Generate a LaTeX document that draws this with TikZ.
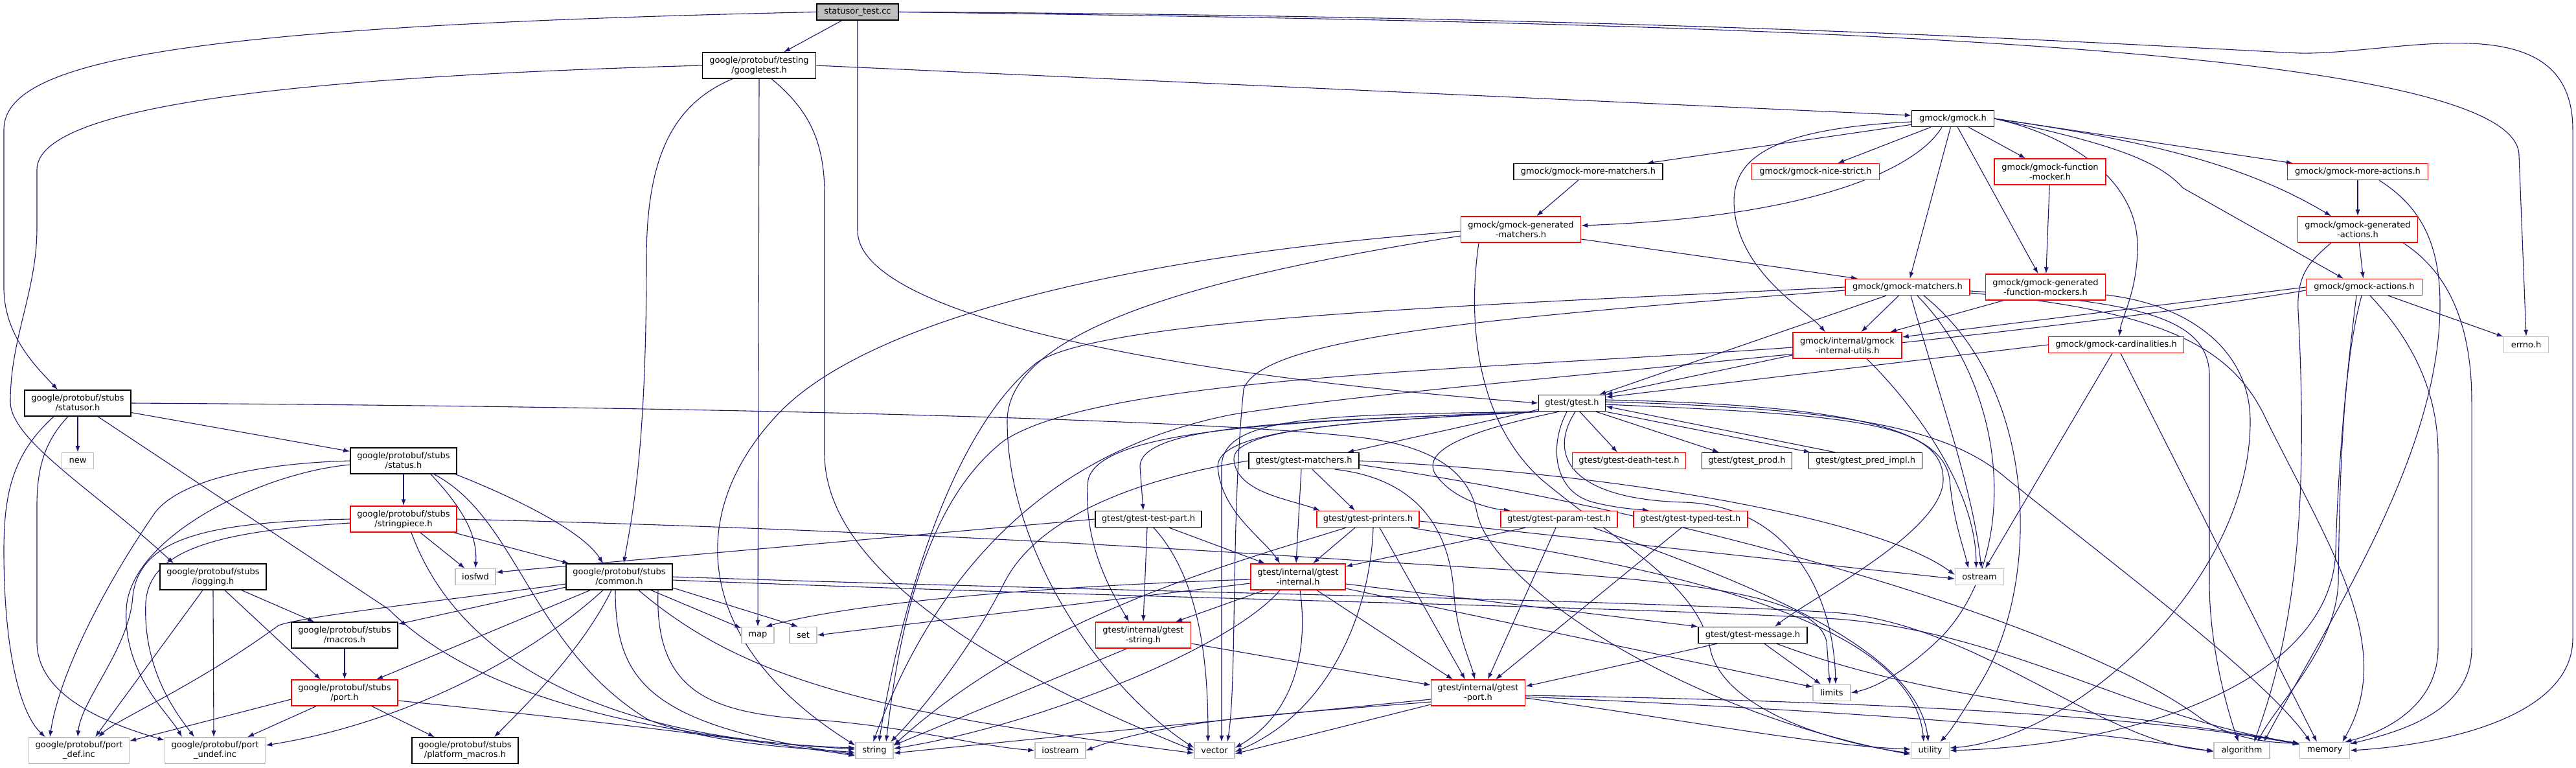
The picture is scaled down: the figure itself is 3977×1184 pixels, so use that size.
\documentclass[tikz,border=0pt]{standalone}
\usepackage{fontspec}
\usepackage{tikz}
\usetikzlibrary{arrows.meta}
\newfontfamily\dxfont{DejaVu Sans}
\definecolor{dxblue}{HTML}{191970}
\definecolor{dxred}{HTML}{FF0000}
\definecolor{dxgray}{HTML}{BFBFBF}
\pgfdeclarelayer{bg}
\pgfsetlayers{bg,main}
\tikzset{
  bx/.style={rectangle, line width=1.4pt, fill=white, minimum height=25pt, inner sep=2pt, align=center, font=\dxfont\fontsize{13}{15}\selectfont},
  doc/.style={bx, draw=black},
  trunc/.style={bx, draw=dxred},
  sys/.style={bx, draw=dxgray},
  two/.style={minimum height=40pt},
  dep/.style={draw=dxblue, line width=1.1pt, -{Latex[length=10pt,width=7pt]}}
}
\begin{document}
\begin{tikzpicture}[x=1pt,y=-1pt]
\useasboundingbox (0,0) rectangle (3977,1184);
%files
\node[doc, fill=dxgray, minimum width=126pt] (test) at (1324,18.5) {statusor\_test.cc};
\node[doc, two, minimum width=175pt] (googletest) at (1172,101) {google/protobuf/testing\\/googletest.h};
\node[doc, minimum width=127pt] (gmock) at (3015,183) {gmock/gmock.h};
\node[doc, minimum width=230pt] (moremat) at (2452,265) {gmock/gmock-more-matchers.h};
\node[trunc, minimum width=197pt] (nicestrict) at (2803,265) {gmock/gmock-nice-strict.h};
\node[trunc, two, minimum width=185pt] (genmat) at (2348,354) {gmock/gmock-generated\\-matchers.h};
\node[trunc, minimum width=192pt] (matchers) at (2945,443) {gmock/gmock-matchers.h};
\node[trunc, two, minimum width=168pt] (iutils) at (2852,533) {gmock/internal/gmock\\-internal-utils.h};
\node[trunc, two, minimum width=172pt] (funcmock) at (3165,265) {gmock/gmock-function\\-mocker.h};
\node[trunc, two, minimum width=185pt] (genfunc) at (3158,443) {gmock/gmock-generated\\-function-mockers.h};
\node[trunc, minimum width=209pt] (card) at (3267,532) {gmock/gmock-cardinalities.h};
\node[trunc, minimum width=217pt] (moreact) at (3640,265) {gmock/gmock-more-actions.h};
\node[trunc, two, minimum width=185pt] (genact) at (3640,354) {gmock/gmock-generated\\-actions.h};
\node[trunc, minimum width=179pt] (actions) at (3650,443) {gmock/gmock-actions.h};
\node[sys, minimum width=69pt] (errno) at (3900,532) {errno.h};
\node[doc, two, minimum width=164pt] (statusor) at (120,622) {google/protobuf/stubs\\/statusor.h};
\node[sys, minimum width=49pt] (new) at (120,711) {new};
\node[doc, two, minimum width=164pt] (status) at (623,711) {google/protobuf/stubs\\/status.h};
\node[trunc, two, minimum width=164pt] (strpiece) at (623,801) {google/protobuf/stubs\\/stringpiece.h};
\node[doc, two, minimum width=164pt] (logging) at (329,890) {google/protobuf/stubs\\/logging.h};
\node[sys, minimum width=62pt] (iosfwd) at (734,890) {iosfwd};
\node[doc, two, minimum width=164pt] (common) at (956,890) {google/protobuf/stubs\\/common.h};
\node[doc, two, minimum width=164pt] (macros) at (532,980) {google/protobuf/stubs\\/macros.h};
\node[trunc, two, minimum width=164pt] (sport) at (532,1069) {google/protobuf/stubs\\/port.h};
\node[sys, two, minimum width=155pt] (portdef) at (122,1158) {google/protobuf/port\\\_def.inc};
\node[sys, two, minimum width=155pt] (portundef) at (332,1158) {google/protobuf/port\\\_undef.inc};
\node[doc, two, minimum width=164pt] (platform) at (718,1158) {google/protobuf/stubs\\/platform\_macros.h};
\node[sys, minimum width=50pt] (map) at (1170,980) {map};
\node[sys, minimum width=42pt] (set) at (1240,980) {set};
\node[sys, minimum width=58pt] (string) at (1350,1158) {string};
\node[sys, minimum width=78pt] (iostream) at (1637,1158) {iostream};
\node[sys, minimum width=62pt] (vector) at (1875,1158) {vector};
\node[doc, minimum width=164pt] (testpart) at (1773,801) {gtest/gtest-test-part.h};
\node[trunc, two, minimum width=147pt] (gstring) at (1765,980) {gtest/internal/gtest\\-string.h};
\node[trunc, two, minimum width=146pt] (ginternal) at (2004,890) {gtest/internal/gtest\\-internal.h};
\node[doc, minimum width=170pt] (gmatchers) at (2013,711) {gtest/gtest-matchers.h};
\node[doc, minimum width=103pt] (gtest) at (2427,622) {gtest/gtest.h};
\node[trunc, minimum width=175pt] (death) at (2515,711) {gtest/gtest-death-test.h};
\node[doc, minimum width=139pt] (prod) at (2697,711) {gtest/gtest\_prod.h};
\node[doc, minimum width=175pt] (predimpl) at (2880,711) {gtest/gtest\_pred\_impl.h};
\node[trunc, minimum width=158pt] (printers) at (2112,801) {gtest/gtest-printers.h};
\node[trunc, minimum width=180pt] (param) at (2407,801) {gtest/gtest-param-test.h};
\node[trunc, minimum width=176pt] (typed) at (2610,801) {gtest/gtest-typed-test.h};
\node[doc, minimum width=168pt] (message) at (2706,980) {gtest/gtest-message.h};
\node[trunc, two, minimum width=145pt] (gport) at (2282,1069) {gtest/internal/gtest\\-port.h};
\node[sys, minimum width=58pt] (limits) at (2828,1069) {limits};
\node[sys, minimum width=59pt] (utility) at (2980,1158) {utility};
\node[sys, minimum width=75pt] (ostream) at (3056,890) {ostream};
\node[sys, minimum width=86pt] (algorithm) at (3461,1158) {algorithm};
\node[sys, minimum width=77pt] (memory) at (3589,1158) {memory};
\begin{pgfonlayer}{bg}
\fill[white] (0,0) rectangle (3977,1184);
%statusor_test.cc
\draw[dep] (test) -- (googletest);
\draw[dep] (test.west) .. controls (300,40) and (6,90) .. (6,200) -- (6,444) .. controls (6,520) and (60,570) .. ([xshift=-31pt]statusor.north);
\draw[dep] (test.south) -- (1324,356) .. controls (1324,470) and (1700,570) .. (gtest.west);
\draw[dep] (test.east) .. controls (2600,35) and (3889,60) .. (3889,240) -- (errno.north);
\draw[dep] (test.east) .. controls (2600,25) and (3300,70) .. (3550,82) .. controls (3700,85) and (3972,0) .. (3972,200) -- (3972,985) .. controls (3972,1110) and (3760,1150) .. (memory.east);
%googletest.h
\draw[dep] (googletest.east) -- ([yshift=5pt]gmock.west);
\draw[dep] (googletest.west) .. controls (400,120) and (57,170) .. (57,262) -- (57,352) .. controls (57,450) and (16,520) .. (16,620) .. controls (16,680) and (150,760) .. ([xshift=-61pt]logging.north);
\draw[dep] ([xshift=-41pt]googletest.south) .. controls (1040,160) and (998,240) .. (998,400) .. controls (998,700) and (975,800) .. ([xshift=7pt]common.north);
\draw[dep] (googletest.south) -- (map.north);
\draw[dep] ([xshift=19pt]googletest.south) .. controls (1250,170) and (1273,220) .. (1273,300) -- (1273,700) .. controls (1273,900) and (1600,1060) .. (vector.west);
%gmock.h
\draw[dep] (gmock) -- (moremat);
\draw[dep] (gmock) -- (nicestrict);
\draw[dep] ([xshift=-17pt]gmock.south) .. controls (2960,260) and (2800,335) .. ([yshift=6pt]genmat.east);
\draw[dep] ([yshift=-5pt]gmock.west) .. controls (2700,200) and (2665,260) .. (2680,340) .. controls (2700,430) and (2790,480) .. ([xshift=-34pt]iutils.north);
\draw[dep] (gmock) -- (matchers);
\draw[dep] (gmock) -- (funcmock);
\draw[dep] (gmock) -- (genfunc);
\draw[dep] (gmock.east) .. controls (3200,210) and (3300,280) .. (3300,380) .. controls (3300,450) and (3275,490) .. ([xshift=5pt]card.north);
\draw[dep] (gmock.east) .. controls (3250,220) and (3330,245) .. (3370,290) -- ([xshift=-32pt]actions.north);
\draw[dep] (gmock.east) .. controls (3300,215) and (3460,250) .. ([xshift=-41pt]genact.north);
\draw[dep] (gmock.east) -- ([xshift=-100pt]moreact.north);
\draw[dep] (moremat) -- (genmat);
\draw[dep] (funcmock) -- (genfunc);
%gmock actions
\draw[dep] (moreact) -- (genact);
\draw[dep] ([xshift=33pt]moreact.south) .. controls (3740,320) and (3767,380) .. (3767,470) .. controls (3767,700) and (3600,950) .. ([xshift=34pt]algorithm.north);
\draw[dep] (genact) -- (actions);
\draw[dep] ([xshift=-41pt]genact.south) .. controls (3570,400) and (3545,420) .. (3548,480) .. controls (3565,800) and (3540,980) .. ([xshift=19pt]algorithm.north);
\draw[dep] ([xshift=70pt]genact.south) .. controls (3780,420) and (3816,500) .. (3816,620) -- (3816,1000) .. controls (3816,1100) and (3700,1130) .. ([yshift=-3pt]memory.north east);
\draw[dep] (actions) -- (errno);
\draw[dep] (actions.west) -- ([yshift=13pt]iutils.east);
\draw[dep] ([yshift=-5pt]actions.west) .. controls (3000,540) and (2200,590) .. (1900,640) .. controls (1600,700) and (1440,900) .. ([xshift=-2pt]string.north);
\draw[dep] ([xshift=-4pt]actions.south) .. controls (3620,550) and (3612,700) .. (3610,900) .. controls (3605,1000) and (3520,1080) .. ([xshift=24pt]algorithm.north);
\draw[dep] ([xshift=9pt]actions.south) .. controls (3720,520) and (3764,600) .. (3764,700) -- (3764,1000) .. controls (3764,1090) and (3680,1130) .. ([xshift=-8pt]memory.north east);
\draw[dep] ([xshift=-12pt]actions.south) .. controls (3625,560) and (3610,700) .. (3606,850) .. controls (3600,1050) and (3300,1150) .. (utility.east);
%gmock-cardinalities.h
\draw[dep] (card.west) -- ([yshift=-4pt]gtest.north east);
\draw[dep] ([xshift=-6pt]card.south) -- ([xshift=9pt]ostream.north);
\draw[dep] ([xshift=7pt]card.south) -- ([xshift=-12pt]memory.north);
%gmock-generated-function-mockers.h
\draw[dep] ([xshift=-65pt]genfunc.south) -- ([xshift=66pt]iutils.north);
\draw[dep] ([yshift=-12pt]genfunc.east) .. controls (3380,470) and (3474,540) .. (3474,650) .. controls (3474,900) and (3200,1140) .. ([yshift=4pt]utility.east);
%gmock-generated-matchers.h
\draw[dep] ([yshift=-15pt]genmat.east) -- ([xshift=-77pt]matchers.north);
\draw[dep] ([yshift=-3pt]genmat.west) .. controls (1800,390) and (1350,480) .. (1200,640) .. controls (1050,800) and (1080,1000) .. ([yshift=8pt]string.west);
\draw[dep] ([yshift=-10pt]genmat.west) .. controls (1900,420) and (1555,500) .. (1555,650) .. controls (1555,850) and (1700,1060) .. ([yshift=4pt]vector.west);
\draw[dep] ([xshift=-65pt]genmat.south) .. controls (2265,500) and (2280,650) .. (2380,740) .. controls (2500,840) and (2620,900) .. (2640,1000) .. controls (2660,1100) and (2850,1150) .. ([yshift=-4pt]utility.west);
%gmock-matchers.h
\draw[dep] (matchers) -- (iutils);
\draw[dep] ([xshift=-33pt]matchers.south) -- ([xshift=-10pt]gtest.north east);
\draw[dep] (matchers.west) .. controls (2300,470) and (1700,490) .. (1600,560) .. controls (1450,680) and (1380,1000) .. ([xshift=7pt]string.north);
\draw[dep] ([yshift=-5pt]matchers.west) .. controls (2300,490) and (1950,520) .. (1920,600) .. controls (1900,800) and (1910,1050) .. ([xshift=20pt]vector.north);
\draw[dep] ([yshift=-6pt]matchers.east) .. controls (3300,465) and (3411,490) .. (3411,580) -- (3411,900) .. controls (3411,1000) and (3440,1100) .. ([xshift=-5pt]algorithm.north);
\draw[dep] ([yshift=-9pt]matchers.east) .. controls (3350,480) and (3450,540) .. (3500,650) .. controls (3600,850) and (3700,1000) .. ([xshift=-12pt]memory.north east);
\draw[dep] ([xshift=5pt]matchers.south) .. controls (2990,600) and (3045,750) .. ([xshift=3pt]ostream.north);
\draw[dep] ([xshift=15pt]matchers.south) .. controls (3100,600) and (3120,850) .. (3000,980) .. controls (2950,1030) and (2900,1060) .. (limits.east);
\draw[dep] ([xshift=25pt]matchers.south) .. controls (3150,600) and (3150,900) .. (3060,1050) .. controls (3030,1100) and (3010,1130) .. ([xshift=15pt]utility.north);
%gmock-internal-utils.h
\draw[dep] ([yshift=-15pt]iutils.west) -- (gtest.north east);
\draw[dep] ([xshift=30pt]iutils.south) .. controls (2950,620) and (3050,750) .. ([xshift=-5pt]ostream.north);
\draw[dep] ([yshift=-3pt]iutils.west) .. controls (2300,570) and (1700,580) .. (1550,680) .. controls (1420,780) and (1385,1000) .. ([xshift=18pt]string.north);
%gtest.h
\draw[dep] ([xshift=12pt]gtest.south) -- ([xshift=-18pt]death.north);
\draw[dep] ([xshift=37pt]gtest.south) -- ([xshift=-43pt]prod.north);
\draw[dep] (gtest.south east) -- ([xshift=-85pt]predimpl.north);
\draw[dep] ([xshift=-47pt]predimpl.north) -- ([yshift=-5pt]gtest.east);
\draw[dep] ([yshift=-10pt]gtest.west) -- ([xshift=67pt]gmatchers.north);
\draw[dep] (gtest.south west) .. controls (2100,650) and (1880,660) .. (1880,720) .. controls (1885,790) and (1950,830) .. ([xshift=-28pt]ginternal.north);
\draw[dep] (gtest.south west) .. controls (2000,650) and (1700,660) .. (1680,740) .. controls (1670,840) and (1720,920) .. ([xshift=-22pt]gstring.north);
\draw[dep] (gtest.south west) .. controls (2050,650) and (1760,650) .. (1760,720) -- ([xshift=-8pt]testpart.north);
\draw[dep] (gtest.south west) .. controls (2100,650) and (1900,660) .. (1905,710) .. controls (1910,760) and (1990,770) .. ([xshift=-74pt]printers.north);
\draw[dep] ([xshift=-20pt]gtest.south) .. controls (2240,670) and (2200,700) .. (2215,730) .. controls (2240,770) and (2300,785) .. ([xshift=-75pt]param.north);
\draw[dep] ([xshift=-8pt]gtest.south) .. controls (2390,690) and (2400,760) .. (2460,775) .. controls (2500,785) and (2530,786) .. ([xshift=-64pt]typed.north);
\draw[dep] ([yshift=-2pt]gtest.east) .. controls (2850,640) and (3000,650) .. (3000,740) .. controls (3000,820) and (2800,920) .. ([xshift=34pt]message.north);
\draw[dep] ([yshift=2pt]gtest.east) .. controls (2850,630) and (3010,660) .. (3100,740) .. controls (3300,900) and (3500,1050) .. ([xshift=-22pt]memory.north);
\draw[dep] ([yshift=5pt]gtest.east) .. controls (2850,625) and (3000,660) .. (3010,740) .. controls (3015,800) and (3030,840) .. ([xshift=-17pt]ostream.north);
\draw[dep] (gtest.south west) .. controls (2050,640) and (1886,640) .. (1886,720) -- ([xshift=11pt]vector.north);
\draw[dep] ([xshift=5pt]gtest.south) .. controls (2390,700) and (2420,770) .. (2600,775) .. controls (2750,780) and (2830,900) .. ([xshift=6pt]limits.north);
%gtest-matchers.h
\draw[dep] ([xshift=13pt]gmatchers.south) -- ([xshift=-20pt]printers.north);
\draw[dep] ([xshift=-4pt]gmatchers.south) -- ([xshift=-3pt]ginternal.north);
\draw[dep] ([xshift=48pt]gmatchers.south) .. controls (2200,740) and (2240,830) .. (2245,920) .. controls (2250,980) and (2270,1020) .. ([xshift=-5pt]gport.north);
\draw[dep] (gmatchers.west) .. controls (1750,740) and (1600,800) .. (1550,900) .. controls (1500,1000) and (1420,1100) .. ([xshift=25pt]string.north);
\draw[dep] (gmatchers.east) .. controls (2500,730) and (2900,800) .. ([yshift=3pt]ostream.west);
\draw[dep] ([yshift=-6pt]gmatchers.east) .. controls (2600,790) and (3200,960) .. (3400,1110) .. controls (3450,1140) and (3500,1146) .. ([yshift=-2pt]memory.north west);
%gtest-printers.h
\draw[dep] ([xshift=-20pt]printers.south) -- ([xshift=23pt]ginternal.north);
\draw[dep] ([xshift=18pt]printers.south) -- ([xshift=-20pt]gport.north);
\draw[dep] ([xshift=-34pt]printers.south) .. controls (1900,870) and (1600,950) .. ([yshift=8pt]string.east);
\draw[dep] ([xshift=8pt]printers.south) .. controls (2115,950) and (2050,1100) .. ([yshift=-2pt]vector.east);
\draw[dep] ([yshift=-3pt]printers.east) -- ([yshift=-3pt]ostream.west);
\draw[dep] ([xshift=66pt]printers.south) .. controls (2450,860) and (2950,930) .. ([xshift=-10pt]utility.north);
%gtest-param-test.h, gtest-typed-test.h
\draw[dep] ([xshift=-52pt]param.south) -- ([yshift=16pt]ginternal.east);
\draw[dep] ([xshift=-5pt]param.south) -- ([xshift=15pt]gport.north);
\draw[dep] ([xshift=53pt]param.south) .. controls (2700,900) and (2960,1000) .. ([xshift=-3pt]utility.north);
\draw[dep] ([xshift=-14pt]typed.south) -- ([xshift=27pt]gport.north);
%gtest-test-part.h
\draw[dep] (testpart.west) -- ([yshift=7pt]iosfwd.east);
\draw[dep] ([xshift=-2pt]testpart.south) -- (gstring.north);
\draw[dep] ([xshift=8pt]testpart.south) .. controls (1860,900) and (1865,1050) .. ([xshift=-10pt]vector.north);
\draw[dep] ([xshift=32pt]testpart.south) -- ([xshift=-51pt]ginternal.north);
%gtest-internal.h
\draw[dep] ([yshift=-4pt]ginternal.west) .. controls (1600,905) and (1320,930) .. ([xshift=12pt]map.north);
\draw[dep] ([yshift=-10pt]ginternal.west) -- (set.east);
\draw[dep] ([xshift=-52pt]ginternal.south) -- ([xshift=50pt]gstring.north);
\draw[dep] ([xshift=-28pt]ginternal.south) .. controls (1900,1000) and (1600,1120) .. ([yshift=3pt]string.east);
\draw[dep] ([xshift=3pt]ginternal.south) .. controls (2020,1000) and (2000,1100) .. ([yshift=4pt]vector.east);
\draw[dep] ([xshift=29pt]ginternal.south) -- ([xshift=-39pt]gport.north);
\draw[dep] ([yshift=-11pt]ginternal.east) -- (message.north west);
\draw[dep] ([yshift=-18pt]ginternal.east) -- ([yshift=9pt]limits.west);
%gtest-string.h, gtest-message.h
\draw[dep] ([xshift=-25pt]gstring.south) -- ([yshift=8pt]string.east);
\draw[dep] ([yshift=-13pt]gstring.east) -- ([yshift=12pt]gport.west);
\draw[dep] ([xshift=-55pt]message.south) -- ([yshift=10pt]gport.east);
\draw[dep] ([xshift=18pt]message.south) -- ([xshift=-17pt]limits.north);
\draw[dep] ([xshift=37pt]message.south) .. controls (3000,1090) and (3300,1100) .. ([yshift=-3pt]memory.north west);
%gtest-port.h
\draw[dep] ([yshift=-10pt]gport.west) .. controls (1900,1110) and (1600,1140) .. ([yshift=-4pt]string.east);
\draw[dep] ([yshift=-14pt]gport.west) .. controls (2000,1100) and (1800,1110) .. (iostream.east);
\draw[dep] ([yshift=-18pt]gport.west) -- ([yshift=-5pt]vector.east);
\draw[dep] ([yshift=-8pt]gport.east) .. controls (2600,1110) and (2800,1150) .. ([yshift=2pt]utility.west);
\draw[dep] ([yshift=-4pt]gport.east) .. controls (2800,1080) and (3300,1100) .. ([yshift=-4pt]memory.north west);
\draw[dep] ([yshift=-6pt]gport.east) .. controls (2800,1095) and (3200,1120) .. ([yshift=-2pt]algorithm.west);
%statusor.h
\draw[dep] (statusor) -- (new);
\draw[dep] (statusor) -- (status);
\draw[dep] ([xshift=-37pt]statusor.south) .. controls (20,700) and (6,760) .. (6,850) .. controls (6,1000) and (30,1100) .. ([xshift=-52pt]portdef.north);
\draw[dep] ([xshift=-15pt]statusor.south) .. controls (70,680) and (57,720) .. (57,780) -- (57,990) .. controls (57,1080) and (180,1120) .. ([yshift=-5pt]portundef.north west);
\draw[dep] ([xshift=31pt]statusor.south) -- (600,940) .. controls (700,1040) and (900,1130) .. ([yshift=2pt]string.west);
\draw[dep] (statusor.east) .. controls (1200,628) and (1900,650) .. (2100,675) .. controls (2230,690) and (2270,740) .. (2280,790) .. controls (2300,900) and (2600,1100) .. ([yshift=-6pt]utility.west);
%status.h
\draw[dep] (status) -- (strpiece);
\draw[dep] (status.west) .. controls (400,715) and (280,740) .. (240,790) .. controls (150,920) and (90,1050) .. ([xshift=-45pt]portdef.north);
\draw[dep] ([yshift=-6pt]status.west) .. controls (400,730) and (200,830) .. (195,940) .. controls (190,1040) and (260,1100) .. ([xshift=-51pt]portundef.north);
\draw[dep] ([xshift=42pt]status.south) .. controls (720,790) and (737,830) .. (iosfwd.north);
\draw[dep] ([xshift=47pt]status.south) .. controls (800,800) and (820,1000) .. (1000,1110) .. controls (1100,1150) and (1250,1155) .. ([yshift=-3pt]string.west);
\draw[dep] ([xshift=80pt]status.south) .. controls (800,770) and (900,820) .. ([xshift=-25pt]common.north);
%stringpiece.h
\draw[dep] (strpiece.west) .. controls (320,805) and (215,830) .. (205,920) .. controls (200,1000) and (125,1080) .. ([xshift=-2pt]portdef.north);
\draw[dep] ([yshift=-6pt]strpiece.west) .. controls (330,820) and (230,850) .. (225,930) .. controls (220,1040) and (280,1110) .. ([xshift=-32pt]portundef.north);
\draw[dep] (strpiece) -- (common);
\draw[dep] (strpiece) -- (iosfwd);
\draw[dep] ([xshift=12pt]strpiece.south) .. controls (700,1000) and (900,1140) .. ([yshift=4pt]string.west);
\draw[dep] (strpiece.east) .. controls (1300,815) and (1800,845) .. (2100,865) .. controls (2500,890) and (2800,900) .. (2820,990) -- ([xshift=-3pt]limits.north);
%logging.h, macros.h
\draw[dep] ([xshift=-16pt]logging.south) -- ([xshift=25pt]portdef.north);
\draw[dep] (logging.south) -- ([xshift=-2pt]portundef.north);
\draw[dep] ([xshift=18pt]logging.south) -- ([xshift=-37pt]sport.north);
\draw[dep] ([xshift=44pt]logging.south) -- ([xshift=-47pt]macros.north);
\draw[dep] (macros) -- (sport);
%common.h
\draw[dep] ([yshift=-11pt]common.west) .. controls (700,925) and (470,950) .. (430,965) .. controls (300,1060) and (180,1110) .. ([xshift=30pt]portdef.north);
\draw[dep] ([yshift=-16pt]common.west) -- ([yshift=17pt]macros.east);
\draw[dep] ([xshift=-45pt]common.south) -- ([xshift=49pt]sport.north);
\draw[dep] ([xshift=-25pt]common.south) .. controls (800,1030) and (600,1120) .. ([yshift=8pt]portundef.east);
\draw[dep] ([xshift=-12pt]common.south) .. controls (900,1000) and (820,1080) .. ([xshift=45pt]platform.north);
\draw[dep] ([xshift=-6pt]common.south) .. controls (950,1050) and (1000,1120) .. ([yshift=-6pt]string.west);
\draw[dep] ([xshift=30pt]common.south) .. controls (1150,1050) and (1350,1100) .. ([yshift=-4pt]vector.west);
\draw[dep] (common) -- (map);
\draw[dep] ([yshift=-17pt]common.east) -- ([xshift=-8pt]set.north);
\draw[dep] ([xshift=60pt]common.south) .. controls (1010,1070) and (1100,1100) .. (1250,1110) .. controls (1400,1120) and (1500,1150) .. (iostream.west);
\draw[dep] (common.east) .. controls (1800,915) and (2500,925) .. (2830,945) .. controls (3050,960) and (3250,1150) .. (algorithm.west);
\draw[dep] ([yshift=-5pt]common.east) .. controls (1800,925) and (2500,935) .. (2835,955) .. controls (3100,975) and (3300,1110) .. ([yshift=-2pt]memory.north west);
%stubs/port.h
\draw[dep] ([yshift=-10pt]sport.west) -- ([yshift=-6pt]portdef.north east);
\draw[dep] ([xshift=-44pt]sport.south) -- ([xshift=50pt]portundef.north);
\draw[dep] ([xshift=42pt]sport.south) -- ([xshift=-47pt]platform.north);
\draw[dep] ([yshift=-12pt]sport.east) .. controls (900,1110) and (1150,1140) .. ([yshift=-8pt]string.west);
\end{pgfonlayer}
\end{tikzpicture}
\end{document}
